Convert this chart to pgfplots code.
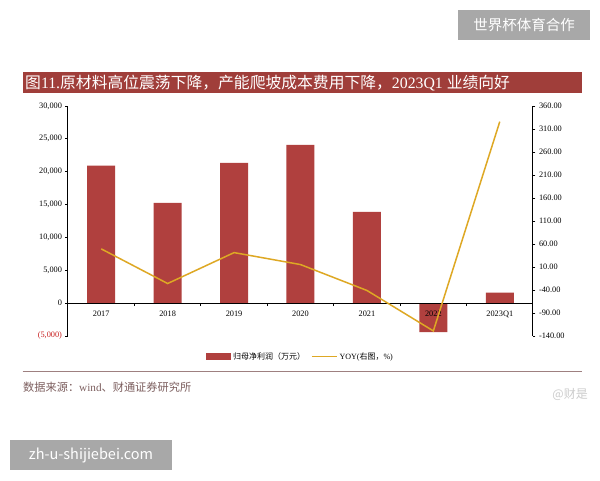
\documentclass[border=0pt]{standalone}
\usepackage{pgfplots}
\pgfplotsset{compat=1.18}
\usepackage{pgfplotstable}
\usepackage{fontspec}
\setmainfont{Liberation Serif}
\newfontfamily\cjk{Noto Sans CJK SC}
\definecolor{barred}{RGB}{176,64,62}
\definecolor{banner}{RGB}{160,62,58}
\definecolor{yoy}{RGB}{222,168,36}
\definecolor{negred}{RGB}{200,30,30}
\definecolor{rulec}{RGB}{158,128,128}
\definecolor{srcc}{RGB}{125,95,95}
\definecolor{wm}{RGB}{168,168,168}

\pgfplotstableread{
x profit yoy
0 20930 49.4
1 15240 -25.9
2 21340 41.3
3 24090 15.3
4 13870 -41
5 -4420 -129
6 1590 326
}\datatable

\begin{document}
\begin{tikzpicture}[x=1pt,y=1pt]
\fill[white] (0,0) rectangle (600,480);
\useasboundingbox (0,0) rectangle (600,480);
% watermark boxes
\fill[wm] (458,440) rectangle (590,470);
\node[white,font=\cjk\fontsize{14.5}{16}\selectfont] at (524,455) {世界杯体育合作};
\fill[wm] (10,10) rectangle (172,40);
\node[white,font=\cjk\fontsize{14.5}{16}\selectfont] at (91,25) {zh-u-shijiebei.com};
% banner
\fill[banner] (22.5,386.5) rectangle (582,407.5);
\node[anchor=west,white,font=\fontsize{15.8}{18}\selectfont,inner sep=0] at (25,397.2) {{\cjk 图}11.{\cjk 原材料高位震荡下降，产能爬坡成本费用下降，}2023Q1 {\cjk 业绩向好}};
% bottom rule and source
\draw[rulec, line width=1.5pt] (22.5,108.3) -- (582,108.3);
\node[anchor=west,srcc,font=\fontsize{11.2}{13}\selectfont,inner sep=0] at (23,92.3) {{\cjk 数据来源：}wind{\cjk 、财通证券研究所}};
\node[anchor=east,black!20,font=\cjk\fontsize{12}{14}\selectfont,inner sep=0] at (588,85) {@财是};

\begin{axis}[
  at={(68pt,144pt)}, anchor=south west, scale only axis,
  width=465pt, height=230pt,
  axis on top,
  xmin=-0.5, xmax=6.5, ymin=-5000, ymax=30000,
  axis x line*=middle, axis y line*=left,
  axis line style={black, line width=1pt},
  xtick={0,...,6},
  xticklabels={2017,2018,2019,2020,2021,2022,2023Q1},
  minor xtick={0.5,1.5,2.5,3.5,4.5,5.5},
  major x tick style={draw=none},
  minor x tick style={black, line width=0.8pt},
  minor tick length=3pt,
  ytick={-5000,0,5000,10000,15000,20000,25000,30000},
  yticklabels={{\color{negred}(5,000)},0,{5,000},{10,000},{15,000},{20,000},{25,000},{30,000}},
  scaled y ticks=false,
  tick align=outside,
  major tick length=2.5pt,
  tick style={black, line width=0.8pt},
  ticklabel style={font=\fontsize{8.3}{10}\selectfont},
  xticklabel style={yshift=-2pt},
  legend style={at={(0.5,-0.09)}, anchor=center, draw=none, fill=none,
    font=\fontsize{8}{10}\selectfont, legend columns=2,
    /tikz/every even column/.append style={column sep=4pt}},
]
\addplot[ybar, bar width=28pt, fill=barred, draw=none,
  legend image code/.code={\fill[barred] (0pt,-3.5pt) rectangle (25pt,3.5pt);}]
  table[x=x,y=profit]{\datatable};
\addlegendentry{{\cjk 归母净利润（万元）}}
\addlegendimage{legend image code/.code={\draw[yoy,line width=1.5pt] (0pt,0pt) -- (25pt,0pt);}}
\addlegendentry{YOY({\cjk 右图，}\%)}
\end{axis}

\begin{axis}[
  at={(68pt,144pt)}, anchor=south west, scale only axis,
  width=465pt, height=230pt,
  xmin=-0.5, xmax=6.5, ymin=-140, ymax=360,
  axis y line*=right, axis x line=none,
  axis line style={black, line width=1pt},
  ytick={-140,-90,-40,10,60,110,160,210,260,310,360},
  yticklabels={-140.00,-90.00,-40.00,10.00,60.00,110.00,160.00,210.00,260.00,310.00,360.00},
  tick align=outside,
  major tick length=2.5pt,
  tick style={black, line width=0.8pt},
  ticklabel style={font=\fontsize{8.3}{10}\selectfont},
]
\addplot[yoy, line width=1.5pt, mark=none] table[x=x,y=yoy]{\datatable};
\end{axis}
\end{tikzpicture}
\end{document}
